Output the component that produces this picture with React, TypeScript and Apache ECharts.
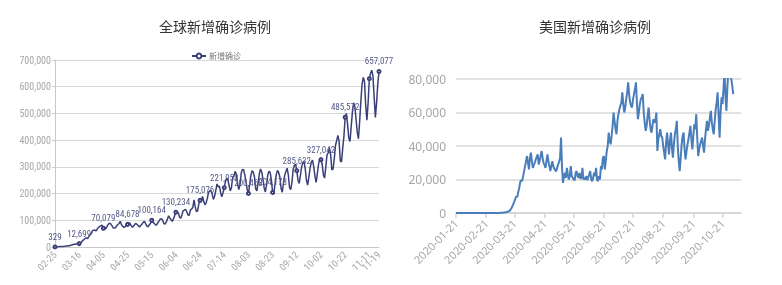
import React, { useEffect, useRef } from "react";
import * as echarts from "echarts";

// ---------- Global daily new cases (2020-02-25 .. 2020-11-19) ----------
const globalStart = "2020-02-25";
const globalFeb = [329, 900, 1100, 1300, 1900];
const globalMar = [1800, 1900, 2300, 2800, 3600, 3900, 4300, 4500, 6600, 7500, 9700, 10600, 11000, 10900, 12400, 12699,
  16000, 19000, 25000, 28000, 32000, 34000, 31000, 40000, 46000, 50000, 61000, 63000, 63500, 60000, 68000];
const globalApr = [73000, 77000, 80000, 82000, 70079, 74000, 68000, 76000, 85000, 89000, 87000, 81000, 72000, 71000, 72000,
  79000, 84000, 88000, 96000, 83000, 78000, 73000, 76000, 81000, 84678, 91000, 88000, 80000, 74000, 78000];
const globalMay = [85000, 88000, 84000, 79000, 75000, 81000, 86000, 92000, 96000, 87000, 78000, 76000, 83000, 88000, 100164,
  94000, 89000, 83000, 82000, 91000, 97000, 104000, 106000, 101000, 88000, 86000, 93000, 105000, 117000, 108000, 102000];
const globalJun = [96000, 105000, 118000, 130234, 126000, 128000, 112000, 108000, 121000, 136000, 138000, 141000, 132000, 120000,
  119000, 139000, 142000, 148000, 176000, 150000, 132000, 135000, 163000, 175076, 168000, 189000, 172000, 158000, 165000, 182000];
const globalJul = [205000, 210000, 212000, 198000, 178000, 190000, 212000, 236000, 225000, 228000, 204000, 188000, 204000, 221958,
  245000, 258000, 252000, 230000, 210000, 224000, 262000, 266000, 283000, 272000, 238000, 215000, 232000, 276000, 290000, 289000, 270000];
const globalAug = [245000, 215000, 200468, 232000, 268000, 286000, 280000, 262000, 218000, 210000, 240000, 273000, 292000, 281000,
  254000, 222000, 206000, 232000, 270000, 284000, 278000, 250000, 204178, 198000, 236000, 270000, 287000, 279000, 262000, 220000, 205000];
const globalSep = [240000, 268000, 283000, 295000, 270000, 222000, 215000, 242000, 290000, 305000, 310000, 285632, 250000, 238000,
  268000, 300000, 316000, 320000, 292000, 250000, 232000, 262000, 295000, 318000, 325000, 302000, 265000, 242000, 275000, 310000];
const globalOct = [330000, 327042, 310000, 270000, 258000, 300000, 345000, 352000, 372000, 345000, 288000, 292000, 330000, 380000,
  398000, 418000, 395000, 322000, 318000, 370000, 415000, 485572, 500000, 460000, 408000, 395000, 450000, 505000, 540000, 525000, 480000];
const globalNov = [430000, 405000, 470000, 545000, 610000, 635000, 620000, 530000, 475000, 540000, 630000, 650000, 662000, 640000,
  560000, 485000, 540000, 610000, 657077];
const globalLabeled = [0, 20, 40, 60, 80, 100, 120, 140, 160, 180, 200, 220, 240, 268];
const globalMarked = [0, 20, 40, 60, 80, 100, 120, 140, 160, 180, 200, 220, 240, 260, 268];

// ---------- US daily new cases (2020-01-21 .. 2020-11-01), axis to 2020-11-09 ----------
const usStart = "2020-01-21";
const usEnd = "2020-11-09";
const usJan = [1, 0, 0, 1, 0, 1, 0, 0, 0, 0, 1];
const usFeb = [1, 0, 1, 0, 2, 0, 0, 0, 1, 0, 1, 0, 0, 0, 0, 0, 0, 0, 0, 0, 1, 0, 0, 2, 3, 1, 0, 2, 3];
const usMar = [8, 20, 25, 30, 50, 70, 100, 120, 180, 250, 330, 450, 600, 700,
  900, 1300, 1900, 2800, 4000, 5500, 6900, 8500, 10000, 9500, 12500, 15000, 18500, 19500, 19000, 22000, 25000];
const usApr = [28000, 31000, 34000, 30000, 26000, 33000, 36000, 31000, 27000, 28500, 30000, 32000, 33500, 35000, 29000,
  31000, 34000, 37000, 33000, 30000, 28500, 27000, 31000, 35000, 31000, 28000, 25000, 28000, 31000, 28000];
const usMay = [26500, 25500, 25000, 27000, 29000, 30500, 33000, 45000, 27000, 18000, 22000, 24000, 21000, 27000, 23000, 20000,
  22000, 28000, 22000, 21000, 20000, 19500, 24000, 25000, 22000, 21000, 24000, 20500, 21000, 27000, 20000];
const usJun = [21000, 20000, 22000, 19500, 21500, 23000, 25000, 20000, 19000, 21000, 24000, 22000, 27000, 20000, 19000,
  22000, 20000, 28000, 26000, 33000, 34000, 26000, 31000, 37000, 40000, 48000, 43000, 41000, 46000, 52000];
const usJul = [60000, 55000, 50000, 47000, 55000, 59000, 62000, 64000, 66000, 72000, 65000, 60000, 63000, 68000, 72000, 78000,
  71000, 66000, 64000, 63000, 68000, 71000, 74000, 78000, 66000, 56000, 60000, 65000, 68000, 69000, 71000];
const usAug = [60000, 54000, 49000, 52000, 58000, 63000, 56000, 50000, 48000, 52000, 56000, 54000, 55000, 60000, 37000, 44000,
  47000, 50000, 46000, 45000, 40000, 36000, 32000, 42000, 48000, 41000, 35000, 43000, 48000, 39000, 33000];
const usSep = [41000, 47000, 50000, 55000, 40000, 31000, 25000, 33000, 41000, 46000, 48000, 38000, 32000, 37000, 41000,
  44000, 48000, 52000, 44000, 38000, 46000, 53000, 50000, 59000, 45000, 34000, 38000, 41000, 43000, 45000];
const usOct = [40000, 36000, 44000, 50000, 55000, 49000, 52000, 57000, 61000, 54000, 50000, 47000, 55000, 62000, 66000, 72000,
  58000, 45000, 60000, 69000, 65000, 74000, 85000, 70000, 61000, 75000, 86000, 88000, 83000, 80000, 76000];
const usNov = [71000];

const leftYTicks = { min: 0, max: 700000, interval: 100000 };
const rightYTicks = { min: 0, max: 80000, interval: 20000 };

function dateRange(start: string, end: string | null, count: number | null): string[] {
  const out: string[] = [];
  const d = new Date(start + "T00:00:00Z");
  const endD = end ? new Date(end + "T00:00:00Z") : null;
  while (true) {
    const s = d.toISOString().slice(0, 10);
    out.push(s);
    if (count !== null && out.length >= count) break;
    if (endD && d.getTime() >= endD.getTime()) break;
    d.setUTCDate(d.getUTCDate() + 1);
  }
  return out;
}

const fmt = (v: number) => Math.round(v).toLocaleString("en-US");

export default function App() {
  const ref = useRef<HTMLDivElement>(null);
  useEffect(() => {
    if (!ref.current) return;
    const chart = echarts.init(ref.current, null, { renderer: "svg" });

    const gValues = [...globalFeb, ...globalMar, ...globalApr, ...globalMay, ...globalJun, ...globalJul,
      ...globalAug, ...globalSep, ...globalOct, ...globalNov];
    const gDates = dateRange(globalStart, null, gValues.length).map((s) => s.slice(5));
    const gLast = gValues.length - 1;
    const gData = gValues.map((v, i) => {
      const item: any = { value: v };
      if (!globalMarked.includes(i)) item.symbol = "none";
      if (globalLabeled.includes(i)) item.label = { show: true };
      return item;
    });

    const uValues = [...usJan, ...usFeb, ...usMar, ...usApr, ...usMay, ...usJun, ...usJul, ...usAug, ...usSep, ...usOct, ...usNov];
    const uDates = dateRange(usStart, usEnd, null);
    const uShow = (i: number, v: string) => v.endsWith("-21");

    const narrow = "'Liberation Sans Narrow', 'Arial Narrow', 'Roboto Condensed', sans-serif";
    const cjk = "'Noto Sans CJK SC', sans-serif";

    chart.setOption({
      animation: false,
      title: [
        { text: "全球新增确诊病例", left: 210, top: 14, textAlign: "center",
          textStyle: { fontSize: 14, fontWeight: "normal", color: "#333", fontFamily: cjk } },
        { text: "美国新增确诊病例", left: 590, top: 14, textAlign: "center",
          textStyle: { fontSize: 14, fontWeight: "normal", color: "#333", fontFamily: cjk } },
      ],
      legend: {
        data: ["新增确诊"], left: 186, top: 47, itemWidth: 14, itemHeight: 6, itemGap: 4,
        textStyle: { fontSize: 8, color: "#777", fontFamily: cjk, padding: [0, 0, 0, -2] },
      },
      grid: [
        { left: 55, top: 60, right: 403, bottom: 38 },
        { left: 456, top: 79, right: 41, bottom: 72 },
      ],
      xAxis: [
        {
          type: "category", gridIndex: 0, data: gDates, boundaryGap: false,
          axisLine: { lineStyle: { color: "#c8c8c8" } },
          axisTick: { show: false },
          axisLabel: {
            rotate: 45, fontSize: 10, color: "#a8a8a8", margin: 6, fontFamily: narrow,
            interval: 0,
            formatter: (v: string, i: number) => (i % 20 === 0 || i === gLast ? v : ""),
          },
        },
        {
          type: "category", gridIndex: 1, data: uDates, boundaryGap: false,
          axisLine: { lineStyle: { color: "#d4d4d4", width: 1.5 } },
          axisTick: { show: true, length: 5, interval: uShow, lineStyle: { color: "#d4d4d4", width: 1.5 } },
          axisLabel: {
            rotate: 45, fontSize: 11, color: "#a6a6a6", margin: 8, fontFamily: "'Noto Sans', sans-serif",
            interval: uShow,
          },
        },
      ],
      yAxis: [
        {
          type: "value", gridIndex: 0, ...leftYTicks,
          axisLine: { show: true, lineStyle: { color: "#c8c8c8" } },
          axisTick: { show: true, length: 3, lineStyle: { color: "#c8c8c8" } },
          axisLabel: { fontSize: 10, color: "#a8a8a8", margin: 4, fontFamily: narrow, formatter: (v: number) => fmt(v) },
          splitLine: { lineStyle: { color: "#d9d9d9" } },
        },
        {
          type: "value", gridIndex: 1, ...rightYTicks,
          axisLine: { show: false }, axisTick: { show: false },
          axisLabel: { fontSize: 12, color: "#a6a6a6", margin: 10, fontFamily: "'Noto Sans', sans-serif", formatter: (v: number) => fmt(v) },
          splitLine: { lineStyle: { color: "#d9d9d9", width: 1.5 } },
        },
      ],
      series: [
        {
          name: "新增确诊", type: "line", xAxisIndex: 0, yAxisIndex: 0, data: gData,
          symbol: "emptyCircle", symbolSize: 3, showSymbol: true, showAllSymbol: true,
          lineStyle: { color: "#3a3f78", width: 1.5 },
          itemStyle: { color: "#3a3f78", borderWidth: 1 },
          label: {
            show: false, position: "top", distance: 3, fontSize: 9, color: "#555a88", fontFamily: narrow,
            formatter: (p: any) => fmt(p.value),
          },
          z: 3,
        },
        {
          name: "美国", type: "line", xAxisIndex: 1, yAxisIndex: 1, data: uValues,
          symbol: "none", clip: true,
          lineStyle: { color: "#4a7ebb", width: 2 },
          itemStyle: { color: "#4a7ebb" },
        },
      ],
    });
    return () => chart.dispose();
  }, []);
  return <div ref={ref} style={{ position: "fixed", left: 0, top: 0, width: 782, height: 285 }} />;
}
